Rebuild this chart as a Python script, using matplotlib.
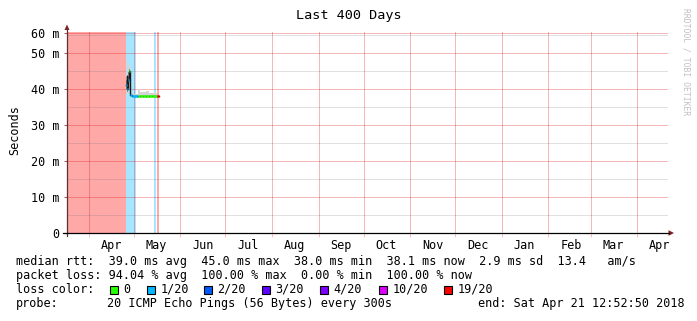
import matplotlib
matplotlib.use('Agg')
import matplotlib.pyplot as plt
import matplotlib.dates as mdates
from matplotlib.lines import Line2D
from matplotlib.patches import Polygon, Rectangle
from datetime import datetime
import numpy as np

# ---------------- data ----------------
title = "Last 400 Days"
t_start = datetime(2017, 3, 17, 12, 52, 50)
t_end = datetime(2018, 4, 21, 12, 52, 50)

month_starts = [datetime(2017, m, 1) for m in range(4, 13)] + [datetime(2018, m, 1) for m in range(1, 5)]
month_labels = ["Apr", "May", "Jun", "Jul", "Aug", "Sep", "Oct", "Nov", "Dec", "Jan", "Feb", "Mar", "Apr"]

y_major = [0, 10, 20, 30, 40, 50]
y_major_labels = ["0", "10 m", "20 m", "30 m", "40 m", "50 m"]
y_top_tick = 55.6
y_top_label = "60 m"
y_minor = [5, 15, 25, 35, 45, 55]
y_max = 55.85

# loss background (pings lost out of 20), segment starts
loss_times = [datetime(2017, 3, 17, 12, 52), datetime(2017, 4, 25, 18), datetime(2017, 5, 2, 12),
              datetime(2017, 5, 14, 10), datetime(2017, 5, 15, 12), datetime(2017, 5, 16, 6),
              datetime(2017, 5, 17, 18)]
loss_vals = [20, 1, 0, 1, 0, 20, np.nan]

# median rtt samples (ms), smoke range and loss count
med_times = [datetime(2017, 4, 25, 18), datetime(2017, 4, 26, 6), datetime(2017, 4, 26, 18),
             datetime(2017, 4, 27, 6), datetime(2017, 4, 27, 18), datetime(2017, 4, 28, 6),
             datetime(2017, 4, 28, 18), datetime(2017, 4, 30, 0), datetime(2017, 5, 3, 18),
             datetime(2017, 5, 5, 0), datetime(2017, 5, 7, 0), datetime(2017, 5, 9, 0),
             datetime(2017, 5, 11, 0), datetime(2017, 5, 13, 0), datetime(2017, 5, 16, 8),
             datetime(2017, 5, 17, 18)]
med_vals = [41.0, 43.5, 40.0, 42.5, 45.0, 45.0, 38.3, 38.0, 38.1, 38.2, 38.1, 38.2, 38.1, 38.1, 38.0, np.nan]
smoke_lo = [38.5, 38.0, 38.5, 39.0, 40.0, 38.0, 37.8, 37.8, 37.9, 37.9, 37.9, 37.9, 37.9, 37.9, 37.9, np.nan]
smoke_hi = [44.0, 53.0, 48.0, 47.0, 46.0, 45.5, 39.0, 38.5, 40.0, 39.3, 39.2, 39.4, 39.0, 38.8, 38.6, np.nan]
med_loss = [1, 2, 1, 1, 0, 0, 1, 1, 0, 0, 0, 0, 0, 0, 20, 0]

legend_labels = ["0", "1/20", "2/20", "3/20", "4/20", "10/20", "19/20"]
legend_colors = ["#26ff00", "#00b8ff", "#0059ff", "#5e00ff", "#7e00ff", "#dd00ff", "#ff0000"]

line1 = "median rtt:  39.0 ms avg  45.0 ms max  38.0 ms min  38.1 ms now  2.9 ms sd  13.4   am/s"
line2 = "packet loss: 94.04 % avg  100.00 % max  0.00 % min  100.00 % now"
line3 = "loss color:"
line4a = "probe:"
line4b = "20 ICMP Echo Pings (56 Bytes) every 300s"
line4c = "end: Sat Apr 21 12:52:50 2018"
watermark = "RRDTOOL / TOBI OETIKER"


def loss_color(n):
    if n <= 0:
        return legend_colors[0]
    if n == 1:
        return legend_colors[1]
    if n == 2:
        return legend_colors[2]
    if n == 3:
        return legend_colors[3]
    if n < 10:
        return legend_colors[4]
    if n < 19:
        return legend_colors[5]
    return legend_colors[6]


# ---------------- figure ----------------
W, H = 697, 321
fig = plt.figure(figsize=(W / 100, H / 100), dpi=100)
fig.patch.set_facecolor("white")
MONO = "DejaVu Sans Mono"
FS = 8.45


def fx(x):
    return x / W


def fy(y):
    return 1 - y / H


L, R, T, B = 67, 668, 32, 233
ax = fig.add_axes([fx(L), fy(B), (R - L) / W, (B - T) / H])
ax.set_xlim(t_start, t_end)
ax.set_ylim(0, y_max)
for s in ax.spines.values():
    s.set_visible(False)

# loss background
for i in range(len(loss_times) - 1):
    v = loss_vals[i]
    if np.isnan(v) or v <= 0:
        continue
    ax.axvspan(loss_times[i], loss_times[i + 1], color=loss_color(v), alpha=0.34, lw=0, zorder=1)

# grid (crisp 1 px lines)
gcol_major = (0.85, 0.0, 0.0)
gcol_minor = (0.45, 0.45, 0.45)
for y in y_minor:
    ax.axhline(y, color=gcol_minor, alpha=0.22, lw=0.72, zorder=2, antialiased=False)
for y in y_major[1:] + [y_top_tick]:
    ax.axhline(y, color=gcol_major, alpha=0.28, lw=0.72, zorder=2, antialiased=False)
for m in month_starts:
    ax.axvline(m, color=gcol_major, alpha=0.28, lw=0.72, zorder=2, antialiased=False)

# smoke
mt = mdates.date2num(med_times)
lo = np.array(smoke_lo)
hi = np.array(smoke_hi)
md = np.array(med_vals)
ax.fill_between(mt, lo, hi, step="post", color="#d4d4d4", lw=0, zorder=3)
ax.fill_between(mt[:7], (lo[:7] + md[:7]) / 2, (hi[:7] + md[:7]) / 2, step="post", color="#8a8a8a", lw=0, zorder=3)

# median line
ax.step(mt, md, where="post", color="#1a1a1a", lw=1.0, zorder=4)
for i in range(len(mt) - 1):
    if np.isnan(md[i]):
        continue
    ax.plot([mt[i], mt[i + 1]], [md[i], md[i]], color=loss_color(med_loss[i]), lw=1.8,
            solid_capstyle="butt", zorder=5)

# ticks
ax.set_yticks(y_major + [y_top_tick])
ax.set_yticklabels(y_major_labels + [y_top_label])
ax.tick_params(axis="y", length=2, width=0.8, color="#a06060", pad=3.6, labelsize=FS)
ax.set_xticks(mdates.date2num(month_starts))
ax.set_xticklabels([])
ax.tick_params(axis="x", which="major", length=3, width=0.75, color=(1, 0.75, 0.75))
mid = [mdates.date2num(m) + 15 for m in month_starts]
ax.set_xticks(mid, minor=True)
ax.set_xticklabels(month_labels, minor=True)
ax.tick_params(axis="x", which="minor", length=0, pad=4.5, labelsize=FS)
for lab in ax.get_xticklabels(minor=True) + ax.get_yticklabels():
    lab.set_fontfamily(MONO)

# axis lines and arrows
fig.add_artist(Line2D([fx(L), fx(L)], [fy(B + 3), fy(29)], color="#603030", lw=0.9))
fig.add_artist(Line2D([fx(63), fx(669)], [fy(B), fy(B)], color="black", lw=0.9))
fig.add_artist(Polygon([[fx(L), fy(24.5)], [fx(64.5), fy(30)], [fx(69.5), fy(30)]],
                       closed=True, color="#802020", lw=0))
fig.add_artist(Polygon([[fx(674), fy(B)], [fx(668.5), fy(B - 2.8)], [fx(668.5), fy(B + 2.8)]],
                       closed=True, color="#802020", lw=0))

# texts
fig.text(fx(348.5), fy(16), title, ha="center", va="center", fontsize=9.7, family=MONO)
fig.text(fx(14.5), fy(130.5), "Seconds", rotation=90, ha="center", va="center", fontsize=FS, family=MONO)
fig.text(fx(686), fy(8), watermark, rotation=-90, ha="center", va="top", fontsize=5.8,
         family=MONO, color="#c0c0c0")

fig.text(fx(16), fy(261.5), line1, ha="left", va="center", fontsize=FS, family=MONO)
fig.text(fx(16), fy(275.5), line2, ha="left", va="center", fontsize=FS, family=MONO)
fig.text(fx(16), fy(289.5), line3, ha="left", va="center", fontsize=FS, family=MONO)
fig.text(fx(16), fy(303.5), line4a, ha="left", va="center", fontsize=FS, family=MONO)
fig.text(fx(107), fy(303.5), line4b, ha="left", va="center", fontsize=FS, family=MONO)
fig.text(fx(478), fy(303.5), line4c, ha="left", va="center", fontsize=FS, family=MONO)

box_x = [110, 147, 204, 262, 320, 379, 444]
for bx, lab, col in zip(box_x, legend_labels, legend_colors):
    fig.add_artist(Rectangle((fx(bx), fy(294)), 8 / W, 8 / H, facecolor=col, edgecolor="black", lw=0.8))
    fig.text(fx(bx + 13.5), fy(289.5), lab, ha="left", va="center", fontsize=FS, family=MONO)

fig.savefig("out.png", dpi=100, facecolor="white")
